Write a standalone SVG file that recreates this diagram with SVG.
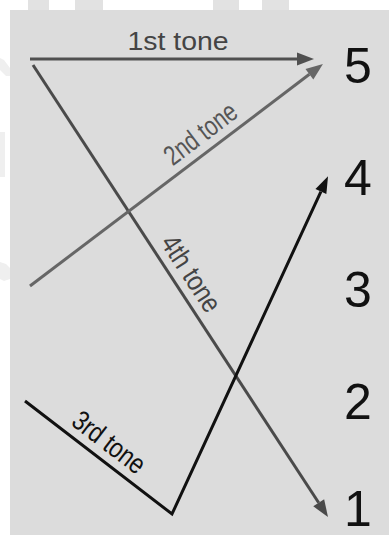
<svg xmlns="http://www.w3.org/2000/svg" width="389" height="535" viewBox="0 0 389 535">
  <style>
    .lbl { font-family: "Liberation Sans", Arial, sans-serif; }
    .num { font-family: "Liberation Sans", Arial, sans-serif; font-size: 50px; fill: #111; }
    .ln { fill: none; stroke-width: 3; stroke-linecap: butt; stroke-linejoin: miter; }
  </style>
  <defs>
    <marker id="ahDark" markerUnits="userSpaceOnUse" markerWidth="20" markerHeight="16" refX="0" refY="0" orient="auto" overflow="visible">
      <path d="M0,-6.5 L17,0 L0,6.5 Z" fill="#505050"/>
    </marker>
    <marker id="ahGray" markerUnits="userSpaceOnUse" markerWidth="20" markerHeight="16" refX="0" refY="0" orient="auto" overflow="visible">
      <path d="M0,-6.5 L17,0 L0,6.5 Z" fill="#666"/>
    </marker>
    <marker id="ahMid" markerUnits="userSpaceOnUse" markerWidth="20" markerHeight="16" refX="0" refY="0" orient="auto" overflow="visible">
      <path d="M0,-6.5 L17,0 L0,6.5 Z" fill="#4a4a4a"/>
    </marker>
    <marker id="ahBlack" markerUnits="userSpaceOnUse" markerWidth="20" markerHeight="16" refX="0" refY="0" orient="auto" overflow="visible">
      <path d="M0,-6 L17,0 L0,6 Z" fill="#111"/>
    </marker>
  </defs>

  <rect x="0" y="0" width="389" height="535" fill="#ffffff"/>
  <!-- faint background fragments -->
  <g fill="#e2e2e2">
    <rect x="28" y="0" width="21" height="10"/>
    <rect x="75" y="0" width="28" height="10"/>
    <rect x="213" y="0" width="26" height="10"/>
    <rect x="262" y="0" width="27" height="10"/>
  </g>
  <g fill="#efefef">
    <path d="M0,58 L4,60 L10,68 L10,76 L6,76 L0,70 Z"/>
    <rect x="0" y="132" width="5" height="45"/>
    <path d="M0,262 L6,264 L10,268 L10,279 L4,281 L0,279 Z"/>
  </g>
  <rect x="10" y="10" width="379" height="525" fill="#dcdcdc"/>

  <g id="connectors">
    <line id="tone1" class="ln" x1="30" y1="59" x2="297" y2="59" stroke="#505050" marker-end="url(#ahDark)"/>
    <line id="tone4" class="ln" x1="33" y1="65" x2="318.7" y2="502.8" stroke="#4a4a4a" marker-end="url(#ahMid)"/>
    <line id="tone2" class="ln" x1="30" y1="286" x2="309.4" y2="74.3" stroke="#666" marker-end="url(#ahGray)"/>
    <polyline id="tone3" class="ln" points="25,401 172,514 320.9,191.6" stroke="#111" marker-end="url(#ahBlack)"/>
  </g>

  <g id="labels">
    <text class="lbl" x="178" y="50" font-size="25" fill="#444" text-anchor="middle" textLength="101" lengthAdjust="spacingAndGlyphs">1st tone</text>
    <text class="lbl" transform="translate(211.6,148.3) rotate(-37.15)" x="0" y="-9" font-size="28" fill="#555" text-anchor="middle" textLength="84" lengthAdjust="spacingAndGlyphs">2nd tone</text>
    <text class="lbl" transform="translate(175.7,283.6) rotate(56.87)" x="0" y="-9" font-size="28" fill="#444" text-anchor="middle" textLength="86" lengthAdjust="spacingAndGlyphs">4th tone</text>
    <text class="lbl" transform="translate(97.8,456.9) rotate(37.55)" x="0" y="-9" font-size="28" fill="#111" text-anchor="middle" textLength="84" lengthAdjust="spacingAndGlyphs">3rd tone</text>
  </g>

  <g id="n5"><text class="num" x="344" y="83">5</text></g>
  <g id="n4"><text class="num" x="344" y="195">4</text></g>
  <g id="n3"><text class="num" x="344" y="307">3</text></g>
  <g id="n2"><text class="num" x="344" y="419">2</text></g>
  <g id="n1"><text class="num" x="344" y="526">1</text></g>
</svg>
